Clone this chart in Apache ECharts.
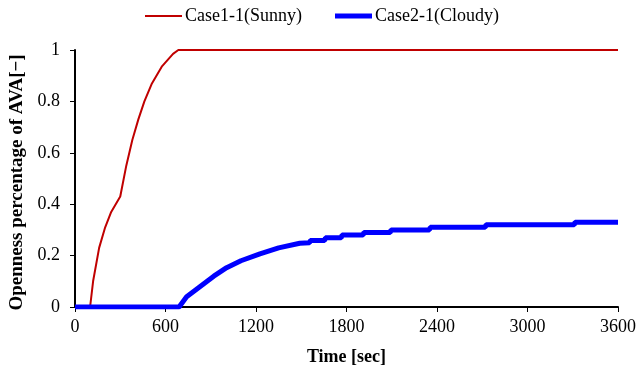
<!DOCTYPE html>
<html>
<head>
<meta charset="utf-8">
<script src="https://cdn.jsdelivr.net/npm/echarts@6/dist/echarts.min.js"></script>
<style>
  html, body { margin: 0; padding: 0; background: #fff; }
  #chart { width: 636px; height: 371px; }
</style>
</head>
<body>
<div id="chart"></div>
<script>
// time [sec], openness [-]
var sunnyTime  = [0, 100, 120, 160, 200, 240, 300, 340, 380, 420, 460, 510, 575, 650, 685, 3600];
var sunnyValue = [0, 0, 0.1, 0.23, 0.31, 0.37, 0.43, 0.55, 0.65, 0.73, 0.8, 0.87, 0.935, 0.985, 1, 1];

var cloudyTime  = [0, 690, 740, 830, 920, 1005, 1100, 1226, 1350, 1490, 1555, 1560, 1655, 1660, 1765, 1770, 1910, 1915, 2090, 2095, 2350, 2355, 2720, 2725, 3310, 3315, 3600];
var cloudyValue = [0, 0, 0.04, 0.08, 0.12, 0.153, 0.18, 0.207, 0.23, 0.248, 0.25, 0.259, 0.259, 0.269, 0.269, 0.28, 0.28, 0.29, 0.29, 0.30, 0.30, 0.31, 0.31, 0.32, 0.32, 0.33, 0.33];

var xTicks = [0, 600, 1200, 1800, 2400, 3000, 3600];
var yTicks = [0, 0.2, 0.4, 0.6, 0.8, 1];

function pairs(xs, ys) {
    var out = [];
    for (var i = 0; i < xs.length; i++) out.push([xs[i], ys[i]]);
    return out;
}

var font = 'Liberation Serif';
var legendText = { fontFamily: font, fontSize: 18, color: '#000', padding: [0, 0, 0, -2] };
var chart = echarts.init(document.getElementById('chart'));

chart.setOption({
    animation: false,
    textStyle: { fontFamily: font },
    legend: [
        {
            top: 2, left: 140,
            itemWidth: 37, itemHeight: 2,
            icon: 'rect',
            textStyle: legendText,
            data: ['Case1-1(Sunny)']
        },
        {
            top: 2, left: 330,
            itemWidth: 37, itemHeight: 5,
            icon: 'rect',
            textStyle: legendText,
            data: ['Case2-1(Cloudy)']
        }
    ],
    grid: { left: 75, right: 18, top: 50, bottom: 64, outerBoundsMode: 'none', containLabel: false },
    xAxis: {
        type: 'value',
        min: 0,
        max: 3600,
        interval: 600,
        name: 'Time [sec]',
        nameLocation: 'middle',
        nameGap: 41,
        nameTextStyle: { fontFamily: font, fontSize: 18, fontWeight: 'bold', color: '#000' },
        axisLine: { lineStyle: { color: '#000', width: 2 } },
        axisTick: { show: true, length: 5, lineStyle: { color: '#000' } },
        axisLabel: { fontFamily: font, fontSize: 18, color: '#000', margin: 11,
            formatter: function (v) { return xTicks.indexOf(v) >= 0 ? String(v) : ''; } },
        splitLine: { show: false }
    },
    yAxis: {
        type: 'value',
        min: 0,
        max: 1,
        interval: 0.2,
        name: 'Openness percentage of AVA[\u2212]',
        nameLocation: 'middle',
        nameGap: 47,
        nameTextStyle: { fontFamily: font, fontSize: 19, fontWeight: 'bold', color: '#000', padding: [0, 8, 0, 0] },
        axisLine: { show: true, lineStyle: { color: '#000', width: 2 } },
        axisTick: { show: true, length: 5, lineStyle: { color: '#000' } },
        axisLabel: { fontFamily: font, fontSize: 18, color: '#000', margin: 15,
            formatter: function (v) {
                var r = Math.round(v * 10) / 10;
                return yTicks.indexOf(r) >= 0 ? String(r) : '';
            } },
        splitLine: { show: false }
    },
    series: [
        {
            name: 'Case1-1(Sunny)',
            type: 'line',
            symbol: 'none',
            data: pairs(sunnyTime, sunnyValue),
            lineStyle: { color: '#c00000', width: 2 },
            itemStyle: { color: '#c00000' }
        },
        {
            name: 'Case2-1(Cloudy)',
            type: 'line',
            symbol: 'none',
            data: pairs(cloudyTime, cloudyValue),
            lineStyle: { color: '#0000ff', width: 5 },
            itemStyle: { color: '#0000ff' }
        }
    ]
});
</script>
</body>
</html>
